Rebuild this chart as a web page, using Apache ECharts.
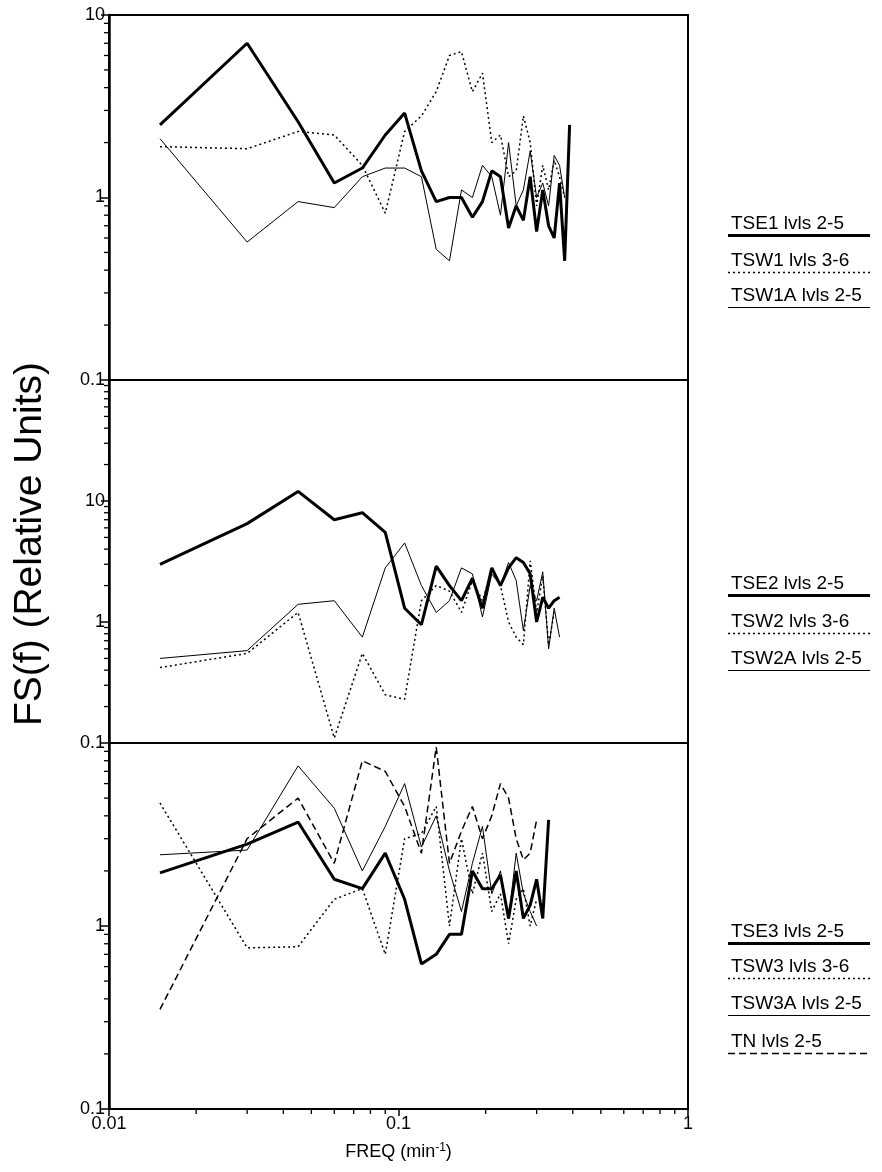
<!DOCTYPE html>
<html><head><meta charset="utf-8">
<script src="https://cdn.jsdelivr.net/npm/echarts@6/dist/echarts.min.js"></script>
<style>html,body{margin:0;padding:0;background:#fff}#c{width:882px;height:1172px}</style>
</head><body><div id="c"></div>
<script>
// ---- data (frequencies in min^-1, values in relative units) ----
const freq = [0.015,0.030,0.045,0.060,0.075,0.090,0.105,0.120,0.135,0.150,0.165,0.180,0.195,0.210,0.225,0.240,0.255,0.270,0.285,0.300,0.315,0.330,0.345,0.360,0.375,0.390,0.405,0.420,0.435,0.450];
const TSE1  = [2.5,7.0,2.6,1.2,1.45,2.2,2.9,1.4,0.95,1.0,1.0,0.78,0.95,1.4,1.3,0.68,0.9,0.75,1.3,0.65,1.1,0.7,0.6,1.2,0.45,2.5];
const TSW1  = [1.9,1.85,2.3,2.2,1.5,0.82,2.3,2.8,3.8,6.0,6.3,3.8,4.8,2.0,2.2,1.3,1.4,2.8,2.0,0.9,1.5,1.1,1.6,1.3,1.0];
const TSW1A = [2.1,0.57,0.95,0.88,1.3,1.45,1.45,1.3,0.52,0.45,1.1,1.0,1.5,1.3,0.8,2.0,0.9,1.1,1.8,1.0,1.2,0.9,1.7,1.5,1.0];
const TSE2  = [3.0,6.5,12,7,8,5.5,1.3,0.95,2.9,2.0,1.5,2.3,1.3,2.8,2.0,2.8,3.4,3.1,2.5,1.0,1.6,1.3,1.5,1.6];
const TSW2  = [0.42,0.55,1.2,0.11,0.55,0.25,0.23,1.5,2.0,1.8,1.2,2.2,1.5,2.7,2.0,1.0,0.75,0.65,3.2,1.2,2.4,0.65,1.2];
const TSW2A = [0.5,0.58,1.4,1.5,0.75,2.8,4.5,2.0,1.2,1.5,2.8,2.5,1.1,2.5,2.0,3.1,2.2,0.85,2.0,1.5,2.6,0.6,1.3,0.75];
const TSE3  = [1.95,2.8,3.7,1.8,1.6,2.5,1.4,0.62,0.7,0.9,0.9,2.0,1.6,1.6,1.9,1.1,2.0,1.1,1.3,1.8,1.1,3.8];
const TSW3  = [4.7,0.76,0.77,1.4,1.6,0.7,3.0,3.2,4.5,1.0,3.0,1.5,2.5,1.2,1.5,0.8,1.4,1.6,1.0,1.4];
const TSW3A = [2.45,2.6,7.5,4.4,2.0,3.5,6.0,2.7,4.0,2.0,1.2,2.2,3.5,1.5,2.0,1.1,2.5,1.5,1.2,1.0];
const TN    = [0.35,3.0,5.0,2.2,8.0,7.0,4.5,2.5,9.5,2.2,3.3,4.5,3.0,4.0,6.0,5.0,3.0,2.3,2.5,3.8];
const yRanges = [[0.1,10],[0.1,100],[0.1,10]];
const legendNames = [["TSE1 lvls 2-5","TSW1 lvls 3-6","TSW1A lvls 2-5"],["TSE2 lvls 2-5","TSW2 lvls 3-6","TSW2A lvls 2-5"],["TSE3 lvls 2-5","TSW3 lvls 3-6","TSW3A lvls 2-5","TN lvls 2-5"]];

// ---- styles ----
const FONT = 'Liberation Sans';
const STY = {
  TSE:{width:3,type:'solid'},
  TSW:{width:1.5,type:[2,3]},
  TSWA:{width:1,type:'solid'},
  TN:{width:1.5,type:[7,4]}
};
const grids = [
  {left:109,width:579,top:15,height:365},
  {left:109,width:579,top:380,height:363},
  {left:109,width:579,top:743,height:366}
];
function pairs(v){return v.map((y,i)=>[freq[i],y]);}
function minorVals(lo,hi){const r=[];for(let d=lo;d<hi*0.999;d*=10){for(let m=2;m<=9;m++)r.push(+(d*m).toPrecision(3));}return r;}

const xAxis=[],yAxis=[],series=[];
grids.forEach((g,i)=>{
  xAxis.push({type:'log',logBase:10,gridIndex:i,min:0.01,max:1,
    axisLine:{show:true,lineStyle:{color:'#000',width:2}},
    axisTick:{show:i===2,inside:false,length:7,lineStyle:{color:'#000',width:1.5}},
    axisLabel:{show:i===2,color:'#000',fontFamily:FONT,fontSize:18,margin:6,formatter:v=>String(v)},
    splitLine:{show:false},
    name:i===2?'FREQ (min{s|-1})':'',nameLocation:'middle',nameGap:33,
    nameTextStyle:{color:'#000',fontFamily:FONT,fontSize:18,rich:{s:{fontSize:12,verticalAlign:'top',fontFamily:FONT,color:'#000',padding:[0,0,8,0]}}}
  });
  const [lo,hi]=yRanges[i];
  yAxis.push({type:'log',logBase:10,gridIndex:i,min:lo,max:hi,
    axisLine:{show:true,lineStyle:{color:'#000',width:2.5}},
    axisTick:{show:true,length:8,lineStyle:{color:'#000',width:1.5}},
    axisLabel:{color:'#000',fontFamily:FONT,fontSize:18,margin:4,showMaxLabel:i===0,
      formatter:v=>String(v)},
    splitLine:{show:false}
  });
});
// minor ticks drawn through the axes' own log scales
function minorSeries(gi,axis){
  const [lo,hi]= axis==='y'?yRanges[gi]:[0.01,1];
  const vals=minorVals(lo,hi);
  return {type:'custom',xAxisIndex:gi,yAxisIndex:gi,silent:true,clip:false,z:5,
    data: vals.map(v=> axis==='y'?[0.01,v]:[v,yRanges[gi][0]]),
    renderItem:(p,api)=>{const pt=api.coord([api.value(0),api.value(1)]);
      return axis==='y'
        ? {type:'line',shape:{x1:pt[0]-5,y1:pt[1],x2:pt[0],y2:pt[1]},style:{stroke:'#000',lineWidth:1.3}}
        : {type:'line',shape:{x1:pt[0],y1:pt[1],x2:pt[0],y2:pt[1]+5},style:{stroke:'#000',lineWidth:1.3}};
    }};
}
for(let i=0;i<3;i++) series.push(minorSeries(i,'y'));
series.push(minorSeries(2,'x'));

function line(name,data,gi,st){
  return {name,type:'line',xAxisIndex:gi,yAxisIndex:gi,data:pairs(data),symbol:'none',
    lineStyle:{color:'#000',width:st.width,type:st.type},z:3,animation:false};
}
series.push(line('TSE1',TSE1,0,STY.TSE),line('TSW1',TSW1,0,STY.TSW),line('TSW1A',TSW1A,0,STY.TSWA));
series.push(line('TSE2',TSE2,1,STY.TSE),line('TSW2',TSW2,1,STY.TSW),line('TSW2A',TSW2A,1,STY.TSWA));
series.push(line('TSE3',TSE3,2,STY.TSE),line('TSW3',TSW3,2,STY.TSW),line('TSW3A',TSW3A,2,STY.TSWA),line('TN',TN,2,STY.TN));

// legend as text + underline samples
const legendY=[[225,262,297],[585,623,660],[933,968,1005,1043]];
const legendStyle=[STY.TSE,STY.TSW,STY.TSWA,STY.TN];
const graphic=[];
legendNames.forEach((names,p)=>names.forEach((n,j)=>{
  const y=legendY[p][j];
  graphic.push({type:'text',left:731,top:y-11,style:{text:n,fill:'#000',font:'19px '+FONT}});
  const st=legendStyle[j];
  graphic.push({type:'line',shape:{x1:728,y1:y+10.5,x2:870,y2:y+10.5},
    style:{stroke:'#000',lineWidth:st.width,lineDash:st.type==='solid'?null:st.type}});
}));
graphic.push({type:'text',x:30,y:544,rotation:Math.PI/2,
  style:{text:'FS(f) (Relative Units)',fill:'#000',font:'39px '+FONT,textAlign:'center',textVerticalAlign:'middle'}});

const chart=echarts.init(document.getElementById('c'),null,{renderer:'canvas'});
chart.setOption({animation:false,backgroundColor:'#fff',
  grid:grids.map(g=>Object.assign({show:true,borderColor:'#000',borderWidth:2,backgroundColor:'transparent'},g)),
  xAxis,yAxis,series,graphic});
</script></body></html>
